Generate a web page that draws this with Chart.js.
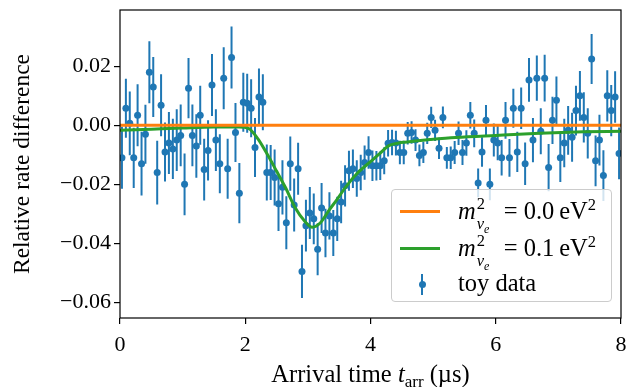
<!DOCTYPE html>
<html><head><meta charset="utf-8">
<script src="https://cdn.jsdelivr.net/npm/chart.js@4.4.1/dist/chart.umd.min.js"></script>
<style>
html,body{margin:0;padding:0;background:#fff;}
#wrap{position:relative;width:628px;height:387px;font-family:"Liberation Serif","DejaVu Serif",serif;color:#000;}
#c{position:absolute;left:0;top:0;}
#xtitle{position:absolute;left:120px;width:501px;top:361px;text-align:center;font-size:24.5px;line-height:26px;white-space:nowrap;}
#xtitle sub{font-size:17px;vertical-align:-5px;line-height:0;}
#legend{position:absolute;left:391px;top:189px;width:219px;height:111px;border:1px solid #cccccc;border-radius:4px;background:rgba(255,255,255,0.8);}
.row{position:absolute;left:0;width:219px;height:30px;}
.sample{position:absolute;left:8px;width:40px;height:3px;top:13px;}
.lbl{position:absolute;left:66px;top:0px;font-size:24.5px;line-height:28px;white-space:nowrap;}
.ss{display:inline-block;position:relative;width:28px;height:10px;}
.ss .p{position:absolute;left:1px;top:-19px;font-size:16.5px;}
.ss .b{position:absolute;left:1px;top:1px;font-size:16.5px;font-style:italic;}
.ss .b .e{font-size:12px;position:relative;top:4px;}
.lbl sup{font-size:16.5px;vertical-align:9px;line-height:0;}
.ebar{position:absolute;left:29px;top:5px;width:2px;height:21px;background:#1f77b4;}
.edot{position:absolute;left:26.5px;top:11.5px;width:7px;height:7px;border-radius:50%;background:#1f77b4;}
</style></head>
<body>
<div id="wrap">
<canvas id="c" width="628" height="387"></canvas>
<div id="xtitle">Arrival time <i>t</i><sub>arr</sub> (µs)</div>
<div id="legend">
  <div class="row" style="top:7px;"><span class="sample" style="background:#ff7f0e"></span>
    <span class="lbl"><i>m</i><span class="ss"><span class="p">2</span><span class="b">ν<span class="e">e</span></span></span>= 0.0&#8201;eV<sup>2</sup></span></div>
  <div class="row" style="top:44px;"><span class="sample" style="background:#2ca02c"></span>
    <span class="lbl"><i>m</i><span class="ss"><span class="p">2</span><span class="b">ν<span class="e">e</span></span></span>= 0.1&#8201;eV<sup>2</sup></span></div>
  <div class="row" style="top:79px;"><span class="ebar"></span><span class="edot"></span>
    <span class="lbl">toy data</span></div>
</div>
</div>
<script>
const times = [
0.031,0.094,0.156,0.219,0.281,0.344,0.406,0.469,0.531,0.594,0.656,0.719,0.781,0.844,0.906,0.969,
1.031,1.094,1.156,1.219,1.281,1.344,1.406,1.469,1.531,1.594,1.656,1.719,1.781,1.844,1.906,1.969,
2.031,2.094,2.156,2.219,2.281,2.344,2.406,2.469,2.531,2.594,2.656,2.719,2.781,2.844,2.906,2.969,
3.031,3.094,3.156,3.219,3.281,3.344,3.406,3.469,3.531,3.594,3.656,3.719,3.781,3.844,3.906,3.969,
4.031,4.094,4.156,4.219,4.281,4.344,4.406,4.469,4.531,4.594,4.656,4.719,4.781,4.844,4.906,4.969,
5.031,5.094,5.156,5.219,5.281,5.344,5.406,5.469,5.531,5.594,5.656,5.719,5.781,5.844,5.906,5.969,
6.031,6.094,6.156,6.219,6.281,6.344,6.406,6.469,6.531,6.594,6.656,6.719,6.781,6.844,6.906,6.969,
7.031,7.094,7.156,7.219,7.281,7.344,7.406,7.469,7.531,7.594,7.656,7.719,7.781,7.844,7.906,7.969];
const rateDiff = [
-0.011,0.0058,0.0007,-0.011,0.0034,-0.013,-0.003,0.018,0.013,-0.016,0.0068,-0.009,-0.006,-0.008,-0.005,-0.0034,
-0.020,0.0126,-0.0034,-0.007,0.0034,-0.015,-0.0085,0.0137,-0.005,-0.013,0.016,-0.0147,0.023,-0.0024,-0.023,0.0078,
0.0075,0.0058,-0.0075,0.0096,0.0078,-0.016,-0.016,-0.0177,-0.0266,-0.021,-0.033,-0.013,-0.027,-0.0147,-0.0495,-0.034,
-0.0297,-0.0317,-0.042,-0.028,-0.0365,-0.0307,-0.0365,-0.0317,-0.026,-0.0205,-0.0154,-0.0147,-0.018,-0.016,-0.0126,-0.0092,
-0.0137,-0.0137,-0.0137,-0.012,-0.0061,-0.0058,-0.006,-0.0092,-0.0092,-0.0027,-0.0024,-0.005,-0.0102,-0.0092,-0.0027,0.0027,
-0.0017,-0.0078,0.0027,-0.011,-0.011,-0.0092,-0.0027,-0.0092,-0.006,0.0034,-0.0027,-0.0195,-0.009,0.0017,-0.020,-0.005,
-0.006,-0.011,0.0017,-0.011,0.0058,-0.009,0.0058,-0.013,0.0154,-0.005,0.016,-0.002,0.016,-0.0143,0.0017,0.0085,
-0.011,-0.006,-0.0017,-0.004,0.005,0.010,0.0027,-0.0027,0.0225,-0.012,-0.005,-0.017,0.010,0.005,0.0096,-0.0095];
const rateErr = [
0.0105,0.010,0.0108,0.0102,0.0105,0.0108,0.010,0.0105,0.0102,0.0108,0.0105,0.010,0.0105,0.0102,0.0105,0.0105,
0.0105,0.0102,0.0105,0.0108,0.010,0.0105,0.0102,0.0105,0.0105,0.010,0.0105,0.0102,0.0105,0.0100,0.0102,0.0100,
0.010,0.0098,0.010,0.0097,0.0095,0.0095,0.0093,0.0095,0.0092,0.0092,0.009,0.0092,0.009,0.0088,0.009,0.0088,
0.0088,0.0086,0.0088,0.0085,0.0082,0.008,0.0078,0.0075,0.0072,0.007,0.0068,0.0065,0.0062,0.006,0.0058,0.0055,
0.0052,0.005,0.0048,0.0046,0.0045,0.0043,0.0042,0.004,0.004,0.0038,0.0038,0.0037,0.0037,0.0036,0.0036,0.0036,
0.0036,0.0036,0.0037,0.0037,0.0038,0.0039,0.004,0.0042,0.0043,0.0045,0.0047,0.0049,0.005,0.0052,0.0054,0.0056,
0.0058,0.006,0.0062,0.0064,0.0066,0.0068,0.007,0.0072,0.0074,0.0075,0.0077,0.0078,0.0079,0.008,0.008,0.0081,
0.0082,0.0082,0.0083,0.0083,0.0084,0.0084,0.0085,0.0085,0.0085,0.0086,0.0086,0.0086,0.0087,0.0087,0.0087,0.0088];
const modelTimes = [0,0.5,1.0,1.5,1.9,2.05,2.2,2.37,2.5,2.64,2.8,2.95,3.07,3.2,3.33,3.47,3.6,3.8,4.0,4.15,4.3,4.45,4.55,4.75,4.95,5.36,6.0,6.7,7.4,8.0];
const modelDiff = [-0.0017,-0.0013,-0.0009,-0.0006,-0.0006,-0.001,-0.0045,-0.0105,-0.0155,-0.021,-0.028,-0.0325,-0.0345,-0.033,-0.029,-0.025,-0.021,-0.016,-0.0123,-0.0095,-0.0068,-0.006,-0.0057,-0.0052,-0.0048,-0.0041,-0.0034,-0.0027,-0.0022,-0.002];
const nullTimes = [0, 8];
const nullDiff = [0, 0];
const xTicks = [0, 2, 4, 6, 8];
const xTickLabels = ['0', '2', '4', '6', '8'];
const yTicks = [0.02, 0.00, -0.02, -0.04, -0.06];
const yTickLabels = ['0.02', '0.00', '\u22120.02', '\u22120.04', '\u22120.06'];

const FONT = '"Liberation Serif", "DejaVu Serif", serif';

const errSegments = [];
times.forEach((t, i) => {
  errSegments.push({x: t, y: rateDiff[i] - rateErr[i]}, {x: t, y: rateDiff[i] + rateErr[i]}, {x: t, y: null});
});

const frame = {
  id: 'frame',
  afterDatasetsDraw(chart) {
    const a = chart.chartArea, ctx = chart.ctx;
    ctx.save();
    ctx.strokeStyle = '#000';
    ctx.lineWidth = 1.2;
    ctx.strokeRect(a.left, a.top, a.right - a.left, a.bottom - a.top);
    ctx.restore();
  }
};

new Chart(document.getElementById('c'), {
  type: 'scatter',
  data: {
    datasets: [
      {type: 'line', label: 'm0', data: nullTimes.map((t, i) => ({x: t, y: nullDiff[i]})),
       borderColor: '#ff7f0e', borderWidth: 3, pointRadius: 0, order: 0},
      {type: 'line', label: 'm1', data: modelTimes.map((t, i) => ({x: t, y: modelDiff[i]})),
       borderColor: '#2ca02c', borderWidth: 3, pointRadius: 0, cubicInterpolationMode: 'monotone', order: 1},
      {type: 'scatter', label: 'toy data', data: times.map((t, i) => ({x: t, y: rateDiff[i]})),
       backgroundColor: '#1f77b4', borderWidth: 0, pointRadius: 3.5, order: 2},
      {type: 'line', label: 'err', data: errSegments, borderColor: '#1f77b4', borderWidth: 2,
       pointRadius: 0, spanGaps: false, borderCapStyle: 'butt', order: 3}
    ]
  },
  options: {
    responsive: false,
    animation: false,
    devicePixelRatio: 1,
    layout: {padding: {left: 0, right: 7, top: 10, bottom: 0}},
    plugins: {legend: {display: false}, tooltip: {enabled: false}},
    scales: {
      x: {
        type: 'linear', min: 0, max: 8, offset: false,
        afterFit(s) { s.height = 69; s.paddingLeft = 0; s.paddingRight = 0; },
        afterBuildTicks(s) { s.ticks = xTicks.map(v => ({value: v})); },
        grid: {drawOnChartArea: false, drawTicks: true, tickLength: 6, color: '#000', lineWidth: 1.2},
        border: {display: false},
        ticks: {color: '#000', font: {family: FONT, size: 22}, padding: 8, maxRotation: 0,
                callback: (v, i) => xTickLabels[i]}
      },
      y: {
        type: 'linear', min: -0.0653, max: 0.0391,
        afterFit(s) { s.width = 120; s.paddingTop = 0; s.paddingBottom = 0; },
        afterBuildTicks(s) { s.ticks = yTicks.map(v => ({value: v})); },
        grid: {drawOnChartArea: false, drawTicks: true, tickLength: 6, color: '#000', lineWidth: 1.2},
        border: {display: false},
        title: {display: true, text: 'Relative rate difference', color: '#000',
                font: {family: FONT, size: 23.5}, padding: {top: 9, bottom: 0}},
        ticks: {color: '#000', font: {family: FONT, size: 22}, padding: 3,
                callback: (v, i) => yTickLabels[i]}
      }
    }
  },
  plugins: [frame]
});
</script>
</body></html>
